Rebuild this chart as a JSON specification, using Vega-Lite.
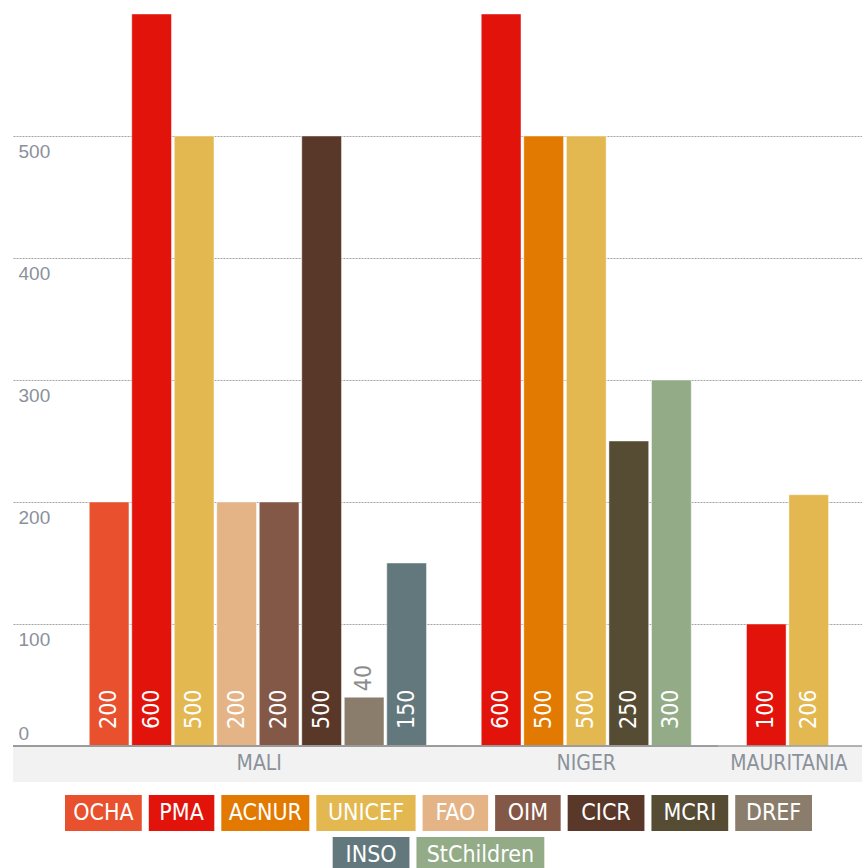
{
  "$schema": "https://vega.github.io/schema/vega-lite/v6.json",
  "background": "white",
  "padding": {"left": 12, "top": 13, "right": 0, "bottom": 0},
  "config": {"view": {"stroke": null}},
  "datasets": {
    "main": [
      {"country": "MALI", "org": "OCHA", "value": 200},
      {"country": "MALI", "org": "PMA", "value": 600},
      {"country": "MALI", "org": "UNICEF", "value": 500},
      {"country": "MALI", "org": "FAO", "value": 200},
      {"country": "MALI", "org": "OIM", "value": 200},
      {"country": "MALI", "org": "CICR", "value": 500},
      {"country": "MALI", "org": "DREF", "value": 40},
      {"country": "MALI", "org": "INSO", "value": 150},
      {"country": "NIGER", "org": "PMA", "value": 600},
      {"country": "NIGER", "org": "ACNUR", "value": 500},
      {"country": "NIGER", "org": "UNICEF", "value": 500},
      {"country": "NIGER", "org": "MCRI", "value": 250},
      {"country": "NIGER", "org": "StChildren", "value": 300},
      {"country": "MAURITANIA", "org": "PMA", "value": 100},
      {"country": "MAURITANIA", "org": "UNICEF", "value": 206}
    ],
    "orgs": [
      {"org": "OCHA"}, {"org": "PMA"}, {"org": "ACNUR"}, {"org": "UNICEF"}, {"org": "FAO"}, {"org": "OIM"},
      {"org": "CICR"}, {"org": "MCRI"}, {"org": "DREF"}, {"org": "INSO"}, {"org": "StChildren"}
    ]
  },
  "data": {"name": "main"},
  "vconcat": [
    {
      "spacing": 0,
      "bounds": "flush",
      "hconcat": [
        {
          "width": 441, "height": 768,
          "transform": [{"filter": "datum.country == 'MALI'"}],
          "layer": [
            {"mark": {"type": "rect", "color": "#f2f2f2"}, "encoding": {"y": {"datum": 0, "type": "quantitative", "title": null}, "y2": {"datum": -29.5}}},
            {"mark": {"type": "bar", "stroke": "#ffffff", "strokeOpacity": 0.45, "strokeWidth": 1},
             "encoding": {
               "x": {"field": "org", "type": "nominal", "scale": {"domain": [" ","OCHA","PMA","UNICEF","FAO","OIM","CICR","DREF","INSO"], "paddingInner": 0.066, "paddingOuter": 0.721, "align": 0.551}, "axis": null},
               "y": {"field": "value", "type": "quantitative", "scale": {"domain": [-29.5, 600], "nice": false, "zero": false},
                     "axis": {"values": [0,100,200,300,400,500], "title": null, "domain": false, "ticks": false, "tickSize": 0, "grid": true, "gridColor": "#a3a3a3", "gridDash": [2,1], "gridWidth": 1, "labelAlign": "left", "labelPadding": -5, "labelFont": "Liberation Sans", "labelFontSize": 19, "labelColor": "#8a919b",
                              "labelBaseline": {"condition": {"test": "datum.value == 0", "value": "alphabetic"}, "value": "top"},
                              "labelOffset": {"condition": {"test": "datum.value == 0", "value": -7}, "value": 6}}},
               "y2": {"datum": 0},
               "color": {"field": "org", "type": "nominal", "scale": {"domain": ["OCHA","PMA","ACNUR","UNICEF","FAO","OIM","CICR","MCRI","DREF","INSO","StChildren"], "range": ["#E8502E","#E2130B","#E27900","#E4B850","#E4B487","#835847","#5A3829","#554C33","#8B7D6C","#62787C","#93AC87"]}, "legend": null}
             }},
            {"mark": {"type": "rule", "color": "#9a9a9a", "strokeWidth": 1}, "encoding": {"y": {"datum": 0, "type": "quantitative", "title": null}}},
            {"transform": [{"filter": "datum.value >= 100"}],
             "mark": {"type": "text", "angle": 270, "align": "left", "baseline": "middle", "dx": 17, "fontSize": 23, "font": "DejaVu Sans Condensed", "color": "white"},
             "encoding": {"x": {"field": "org", "type": "nominal", "axis": null}, "y": {"datum": 0, "type": "quantitative", "title": null}, "text": {"field": "value", "type": "quantitative"}}},
            {"transform": [{"filter": "datum.value < 100"}],
             "mark": {"type": "text", "angle": 270, "align": "left", "baseline": "middle", "dx": 6, "fontSize": 23, "font": "DejaVu Sans Condensed", "color": "#8c8c8c"},
             "encoding": {"x": {"field": "org", "type": "nominal", "axis": null}, "y": {"field": "value", "type": "quantitative", "title": null}, "text": {"field": "value", "type": "quantitative"}}},
            {"transform": [{"aggregate": [{"op": "count", "as": "n"}], "groupby": ["country"]}],
             "mark": {"type": "text", "fontSize": 21, "font": "DejaVu Sans Condensed", "color": "#8a919b", "baseline": "middle", "align": "center"},
             "encoding": {"x": {"datum": "OIM", "type": "nominal", "bandPosition": 0, "axis": null}, "y": {"datum": -14.75, "type": "quantitative", "title": null}, "text": {"field": "country"}}}
          ]
        },
        {
          "width": 264.5, "height": 768,
          "transform": [{"filter": "datum.country == 'NIGER'"}],
          "layer": [
            {"mark": {"type": "rect", "color": "#f2f2f2"}, "encoding": {"y": {"datum": 0, "type": "quantitative", "title": null}, "y2": {"datum": -29.5}}},
            {"mark": {"type": "bar", "stroke": "#ffffff", "strokeOpacity": 0.45, "strokeWidth": 1},
             "encoding": {
               "x": {"field": "org", "type": "nominal", "scale": {"domain": ["PMA","ACNUR","UNICEF","MCRI","StChildren"], "paddingInner": 0.066, "paddingOuter": 0.64, "align": 0.5}, "axis": null},
               "y": {"field": "value", "type": "quantitative", "scale": {"domain": [-29.5, 600], "nice": false, "zero": false},
                     "axis": {"values": [100,200,300,400,500], "title": null, "labels": false, "domain": false, "ticks": false, "tickSize": 0, "grid": true, "gridColor": "#a3a3a3", "gridDash": [2,1], "gridWidth": 1}},
               "y2": {"datum": 0},
               "color": {"field": "org", "type": "nominal", "scale": {"domain": ["OCHA","PMA","ACNUR","UNICEF","FAO","OIM","CICR","MCRI","DREF","INSO","StChildren"], "range": ["#E8502E","#E2130B","#E27900","#E4B850","#E4B487","#835847","#5A3829","#554C33","#8B7D6C","#62787C","#93AC87"]}, "legend": null}
             }},
            {"mark": {"type": "rule", "color": "#9a9a9a", "strokeWidth": 1}, "encoding": {"y": {"datum": 0, "type": "quantitative", "title": null}}},
            {"transform": [{"filter": "datum.value >= 100"}],
             "mark": {"type": "text", "angle": 270, "align": "left", "baseline": "middle", "dx": 17, "fontSize": 23, "font": "DejaVu Sans Condensed", "color": "white"},
             "encoding": {"x": {"field": "org", "type": "nominal", "axis": null}, "y": {"datum": 0, "type": "quantitative", "title": null}, "text": {"field": "value", "type": "quantitative"}}},
            {"transform": [{"aggregate": [{"op": "count", "as": "n"}], "groupby": ["country"]}],
             "mark": {"type": "text", "fontSize": 21, "font": "DejaVu Sans Condensed", "color": "#8a919b", "baseline": "middle", "align": "center"},
             "encoding": {"x": {"datum": "UNICEF", "type": "nominal", "bandPosition": 0.5, "axis": null}, "y": {"datum": -14.75, "type": "quantitative", "title": null}, "text": {"field": "country"}}}
          ]
        },
        {
          "width": 144.5, "height": 768,
          "transform": [{"filter": "datum.country == 'MAURITANIA'"}],
          "layer": [
            {"mark": {"type": "rect", "color": "#f2f2f2"}, "encoding": {"y": {"datum": 0, "type": "quantitative", "title": null}, "y2": {"datum": -29.5}}},
            {"mark": {"type": "bar", "stroke": "#ffffff", "strokeOpacity": 0.45, "strokeWidth": 1},
             "encoding": {
               "x": {"field": "org", "type": "nominal", "scale": {"domain": ["PMA","UNICEF"], "paddingInner": 0.066, "paddingOuter": 0.737, "align": 0.44}, "axis": null},
               "y": {"field": "value", "type": "quantitative", "scale": {"domain": [-29.5, 600], "nice": false, "zero": false},
                     "axis": {"values": [100,200,300,400,500], "title": null, "labels": false, "domain": false, "ticks": false, "tickSize": 0, "grid": true, "gridColor": "#a3a3a3", "gridDash": [2,1], "gridWidth": 1}},
               "y2": {"datum": 0},
               "color": {"field": "org", "type": "nominal", "scale": {"domain": ["OCHA","PMA","ACNUR","UNICEF","FAO","OIM","CICR","MCRI","DREF","INSO","StChildren"], "range": ["#E8502E","#E2130B","#E27900","#E4B850","#E4B487","#835847","#5A3829","#554C33","#8B7D6C","#62787C","#93AC87"]}, "legend": null}
             }},
            {"mark": {"type": "rule", "color": "#9a9a9a", "strokeWidth": 1}, "encoding": {"y": {"datum": 0, "type": "quantitative", "title": null}}},
            {"transform": [{"filter": "datum.value >= 100"}],
             "mark": {"type": "text", "angle": 270, "align": "left", "baseline": "middle", "dx": 17, "fontSize": 23, "font": "DejaVu Sans Condensed", "color": "white"},
             "encoding": {"x": {"field": "org", "type": "nominal", "axis": null}, "y": {"datum": 0, "type": "quantitative", "title": null}, "text": {"field": "value", "type": "quantitative"}}},
            {"transform": [{"aggregate": [{"op": "count", "as": "n"}], "groupby": ["country"]}],
             "mark": {"type": "text", "fontSize": 21, "font": "DejaVu Sans Condensed", "color": "#8a919b", "baseline": "middle", "align": "center"},
             "encoding": {"x": {"datum": "UNICEF", "type": "nominal", "bandPosition": 0, "axis": null}, "y": {"datum": -14.75, "type": "quantitative", "title": null}, "text": {"field": "country"}}}
          ]
        }
      ]
    },
    {
      "width": 754, "height": 78,
      "data": {"name": "orgs"},
      "transform": [
        {"window": [{"op": "row_number", "as": "i"}]},
        {"calculate": "indexof(['INSO','StChildren'], datum.org) >= 0 ? 'r2' : 'r1'", "as": "row"},
        {"calculate": "length(replace(datum.org, /[a-z]/g, '')) * 11 + length(replace(datum.org, /[A-Z]/g, '')) * 9 + 38", "as": "w"},
        {"stack": "w", "groupby": ["row"], "offset": "center", "sort": [{"field": "i", "order": "ascending"}], "as": ["s0", "s1"]},
        {"calculate": "(datum.s0 + datum.s1) / 2", "as": "mid"}
      ],
      "layer": [
        {"mark": {"type": "rect", "xOffset": 3.5, "x2Offset": -3.5},
         "encoding": {
           "x": {"field": "s0", "type": "quantitative", "scale": {"nice": false, "zero": true}, "axis": null},
           "x2": {"field": "s1"},
           "y": {"field": "row", "type": "nominal", "scale": {"domain": ["r1","r2"], "paddingInner": 0.143, "paddingOuter": 0}, "axis": null},
           "color": {"field": "org", "type": "nominal", "scale": {"domain": ["OCHA","PMA","ACNUR","UNICEF","FAO","OIM","CICR","MCRI","DREF","INSO","StChildren"], "range": ["#E8502E","#E2130B","#E27900","#E4B850","#E4B487","#835847","#5A3829","#554C33","#8B7D6C","#62787C","#93AC87"]}, "legend": null}
         }},
        {"mark": {"type": "text", "color": "white", "fontSize": 23, "font": "DejaVu Sans Condensed", "align": "center", "baseline": "middle"},
         "encoding": {
           "x": {"field": "mid", "type": "quantitative", "axis": null},
           "y": {"field": "row", "type": "nominal", "axis": null},
           "text": {"field": "org"}
         }}
      ]
    }
  ],
  "spacing": 13,
  "center": true
}
